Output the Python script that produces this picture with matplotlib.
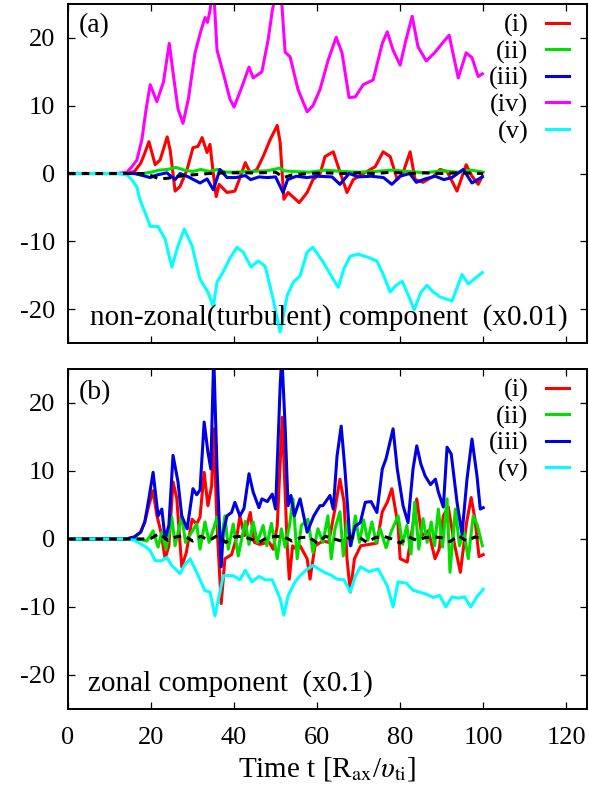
import matplotlib
matplotlib.use("Agg")
import matplotlib.pyplot as plt

plt.rcParams['font.family'] = ['Liberation Serif', 'DejaVu Serif']
plt.rcParams['mathtext.fontset'] = 'stix'
plt.rcParams['axes.unicode_minus'] = False

# ---- panel (a): non-zonal (turbulent) component (x0.01) ----
a_i_t = [0, 14, 16, 17.5, 18.5, 19.5, 21, 22.2, 23.9, 24.6, 25.8, 27, 28.7, 30.1, 31.3, 32.3, 33.5, 34.2, 35, 35.7,
         36.4, 38.3, 40.2, 41.5, 42.7, 43.9, 45.5, 47, 48.7, 50.4, 51.1, 52, 53, 55.7, 57.6, 59, 60.7, 61.9, 63.9,
         65.3, 67.2, 68.7, 72, 74, 75.9, 77.6, 79.3, 80.7, 82.4, 83.6, 85.5, 88, 89.6, 91.3, 93.7, 95.9, 97.3, 98.8, 99.8]
a_i_v = [0, 0, 0.3, 1.5, 3, 4.7, 1.3, 2, 5.4, 3.5, -2.6, -1.9, 0.6, 3.8, 4, 5.3, 3.1, 4.3, 0, -3.4,
         -1.6, -2.8, -2.6, -0.5, 1.6, 0.1, 0.6, 2.5, 5, 7.1, 4.6, -3.8, -2.8, -4.3, -2.8, -0.9, -0.1, 2.5, 3.2,
         0.6, -2.8, -0.9, 0.3, 1.0, 3.2, 2.5, -0.9, 0.1, 3.2, -0.9, -1.3, -0.4, 0.6, 0.3, -2.6, 1.3, -0.4, -1.6, -0.4]

a_ii_t = [0, 18, 20, 22, 24, 26, 28, 30, 32, 34, 36, 38, 40, 44, 48, 51, 52, 54, 58, 62, 66, 70, 74, 78, 82,
          86, 90, 94, 97, 100]
a_ii_v = [0, 0, 0.2, 0.5, 0.6, 0.9, 0.5, 0.3, 0.6, 0.3, 0.6, 0.2, 0.2, 0.3, 0.4, 0.8, 0.4, 0.3, 0.2, 0.5, 0.3,
          0.2, 0.3, 0.5, 0.3, 0.1, 0.4, 0.2, 0.5, 0.2]

a_iii_t = [0, 16, 18, 19.8, 21.5, 23.8, 25.8, 27, 29, 31.8, 33.5, 35, 36.6, 38.3, 40.5, 42.7, 44, 46, 48, 50,
           51.8, 52.9, 55, 57.6, 60, 63.6, 65.5, 67.7, 70, 73, 76, 78, 80, 82.3, 83.9, 86, 88.5, 90.5, 92.5, 95.2,
           97.3, 99.8]
a_iii_v = [0, 0, -0.3, -0.6, -0.2, 0.1, -0.9, 0, -0.5, -1.4, -0.8, -2.4, 0.6, -0.6, -0.6, -0.3, -0.9, -0.5, -0.6,
           -0.5, -2.8, -0.9, -0.4, -0.6, -0.4, -0.5, -1.6, 0, -0.5, -0.4, -0.6, -1.6, -0.4, 0, -1.3, -0.8, -0.4,
           -0.9, -0.6, 0.6, -1.4, -0.5]

a_iv_t = [0, 12, 14.2, 15.4, 16.6, 17.8, 18.8, 19.8, 21.4, 23, 24.4, 25.5, 26.5, 27.7, 29, 30.6, 32, 33, 33.6,
          34.2, 35, 35.9, 37.4, 39, 40, 41.9, 43.6, 44.6, 46.7, 48.2, 49.2, 50.5, 51.4, 52.3, 53.5, 55.4, 57.6, 59,
          60.7, 62.7, 64.6, 66, 67.7, 69.2, 71.1, 73.5, 75.7, 76.9, 78.3, 80, 81.4, 82.9, 84.3, 86.3, 88.4, 90.4,
          91.8, 94, 95.9, 97.3, 98.8, 99.8]
a_iv_v = [0, 0, 0.2, 1, 2, 5, 9.4, 13.1, 10.6, 13.5, 19.2, 14, 9.5, 7.4, 11, 17.8, 21, 23, 22.3,
          24, 28, 18.2, 14.8, 11, 9.8, 12.8, 15.7, 14.1, 15, 19.7, 24, 28, 26, 17.9, 17.2, 12.4, 9.1, 10,
          12.4, 16.8, 20.1, 17.8, 11.2, 11.3, 13.1, 13.8, 19.2, 20.9, 18.2, 16, 19.7, 23.2, 18.7, 16.6, 17.9, 19.4,
          20.4, 14.1, 17.8, 17.1, 14.3, 14.7]

a_v_t = [0, 12, 14.2, 15.5, 16.6, 17.3, 18.6, 19.8, 21.7, 23.4, 25, 26.5, 28, 29.9, 31.8, 33.7, 35, 35.9, 37.3,
         39, 40.7, 42.2, 44.1, 45.8, 47.5, 49.4, 51.1, 52.8, 54.3, 55.9, 57.6, 59, 61.5, 63.3, 65.1, 66.5, 68,
         69.9, 72, 74.4, 76, 77.6, 79, 80.5, 82, 83.4, 85, 86.5, 88, 89.6, 91, 92.5, 94.9, 96.4, 98, 99.8]
a_v_v = [0, 0, -0.2, -1, -2, -3.8, -5.8, -7.8, -7.8, -9.7, -13.8, -10.7, -8.2, -10.7, -15.6, -17.5, -19.6, -16,
         -14.6, -12.5, -10.9, -11.6, -13.8, -12.9, -13.7, -18.5, -23.4, -18, -16, -15.1, -11.6, -10.9, -13.1, -15,
         -16.8, -14, -12.2, -11.9, -12.3, -12.9, -15, -17.5, -16.5, -15.9, -18, -20.1, -17.5, -16.5, -17.5, -18.2,
         -18.5, -18.8, -14.9, -16.3, -15.5, -14.6]

a_ref_t = [0, 18, 20, 22, 24, 26, 28, 30, 34, 38, 42, 46, 50, 52, 54, 58, 62, 66, 70, 74, 78, 82, 86, 90, 94, 100]
a_ref_v = [0, 0, -0.3, -0.8, -0.7, -0.5, -0.3, -0.2, 0, 0.1, 0.1, 0.1, 0.2, -0.6, -0.2, 0, 0.1, 0, 0.1, 0, 0.2,
           0, 0.1, 0, 0.1, 0]

# ---- panel (b): zonal component (x0.1) ----
b_i_t = [0, 14, 16, 17.5, 18.5, 19.5, 20.5, 21.4, 22.4, 23.4, 24.3, 25.3, 26.2, 27.4, 28.5, 29.9, 31, 31.8, 32.8,
         33.7, 34.6, 35.1, 35.9, 36.9, 37.8, 39.4, 40.7, 41.4, 42.5, 43.9, 44.9, 46.2, 47.4, 48.5, 49.4, 50.4, 51.6,
         52.8, 53.3, 54.1, 55, 55.9, 57.6, 58.3, 59.5, 61.4, 62.8, 64.3, 65.5, 66.5, 67.2, 68, 69, 70.5, 72.5, 74.4,
         75.7, 76.9, 78, 79.5, 80, 81.7, 82.8, 84, 85.2, 86.8, 88.4, 89.4, 90.4, 91.6, 93, 94.5, 95.2, 96, 97.1, 98,
         99, 100]
b_i_v = [0, 0, 0.3, 1, 2.5, 5, 7.1, 3.5, 1.0, -2.9, -1, 8.4, 6, -4.1, -2, 2.9, 2.2, 3.2, 9.8,
         4.9, 7.8, 16.2, 1.9, -9.5, -2.9, -2.3, 0.4, 3.4, 0.5, 3.9, -0.5, -0.8, -0.6, -0.5, -1.5, 1.9, 17.9,
         -1, -5.9, -1, -1.5, -1, -2.9, -5.9, -1, -0.3, -0.5, 4.4, 8.8, 5.4, -2.9, -7.8, -2.9, -1, -0.8, -0.6,
         4, 5.4, 7.4, 2, -2.9, -3.4, 1, 5.9, 0.5, 1.2, -2.9, -1.5, 3.4, 4.7, -0.5, -4.9, -1.5, 2.4, 6.1, 3,
         -2.6, -2.3]

b_ii_t = [0, 17, 19, 20.5, 21.7, 22.6, 23.6, 25, 25.8, 27.4, 28.3, 29.3, 31, 31.8, 33, 34, 35.9, 36.8, 37.8, 38.6,
          39.8, 41, 42.7, 43.6, 44.6, 45.6, 47, 47.9, 49, 50.4, 51.4, 52.3, 53.3, 54.2, 55.2, 56.2, 57.8, 59, 60.2,
          61.4, 62.6, 63.4, 64.3, 65.5, 66.3, 67.2, 68.2, 69.2, 70.2, 71.2, 72.2, 73.2, 74.2, 75.2, 76.6, 77.8,
          79.5, 80.6, 81.6, 82.6, 83.5, 84.5, 85.5, 86.5, 87.5, 88.3, 89.2, 90.2, 91.3, 92, 93.3, 94.3, 95.3, 96.4,
          97.6, 98.6, 99.8]
b_ii_v = [0, 0, -0.3, 1.2, -1.2, 1.0, -1.5, 3.2, -1, 3.4, -0.5, 0.5, 2.2, -1.5, 2.5, -0.5, 3.2, -1, 3.4, -1.5,
          2.2, -2.5, 2.6, -0.8, 2.5, -0.5, 2, -1, 2.3, -2.9, 1.5, -1.2, 1.8, 5.9, -2.9, 2.0, 2.9, -2, 1.5,
          -0.5, 3.4, -2.9, 1.5, 4, -2.5, 2.5, -1, 3.4, -0.5, 2.8, -0.2, 2.5, -0.5, 1.5, -1.3, 1.0,
          3.4, -0.8, 2.0, -2.2, 5.4, -1.5, 3.0, -0.5, 2.5, -1.0, 4.4, -1.2, 5.9, -4.9, 4.4, -1.0, 1.2, -2.9,
          3.4, 2.0, -1.0]

b_iii_t = [0, 14, 16, 17.5, 18.5, 19.5, 20.5, 21.7, 22.6, 23.4, 24.3, 25.3, 26.5, 27.4, 28.7, 30.1, 31, 31.8, 32.8,
           33.7, 34.4, 35.1, 35.9, 36.9, 37.4, 38.3, 39.4, 40.2, 41.4, 42.4, 43.6, 44.6, 46, 46.7, 48, 49.2, 50, 51.1,
           51.5, 52.3, 53, 53.7, 54.5, 55.9, 57.6, 59.2, 60.7, 61.4, 63.1, 63.9, 64.8, 65.8, 66.7, 68, 69.2, 70.4,
           71.6, 73, 74.4, 75.7, 76.6, 78.3, 79.3, 80.7, 81.9, 83.1, 84, 85, 86, 87.3, 88.5, 89.2, 90.4, 91.3, 92.3,
           93.7, 94.9, 96.1, 97.3, 98.5, 99.3, 100]
b_iii_v = [0, 0, 0.3, 1, 2.5, 6, 9.8, 3.4, 4.4, 0, 2, 12.3, 8.4, 3.4, 1.5, 7.4, 6.5, 7.2, 17.2,
           12.8, 10.3, 27, 10.3, -4.1, 1, 3.4, 3.9, 5.4, 3.4, 4.5, 9.6, 6.9, 4.6, 5.9, 5.5, 6.6, 4.4, 22.5,
           27, 16.6, 4.9, 6.4, 3.4, 5.9, 1, 3.4, 4.9, 4.9, 6.4, 4.4, 12.2, 16.6, 10.3, -1, 1.9, 2.4,
           5.4, 5.5, 3.9, 10.3, 11.8, 16.2, 10.3, 4.9, 2.4, 10.3, 13.7, 11, 9.3, 8, 8.8, 6.9, 4.7, 13.5, 12.5,
           5.4, 0.7, 8.8, 14.7, 9.3, 4.4, 4.6]

b_v_t = [0, 14, 16, 17.5, 18.8, 19.8, 21, 22.6, 23.8, 25, 27, 28, 29.4, 31, 33, 34.2, 35.4, 36.6, 37.4, 39.8,
         41.4, 42.7, 44.3, 46, 47.5, 49.2, 51.1, 52, 53, 54.7, 55.9, 57.5, 59, 61.7, 63.3, 64.8, 66.5, 68, 69.2,
         70.4, 72.5, 74.7, 76.9, 78.3, 79.5, 81.5, 83, 84.5, 86.3, 88, 89.5, 91, 92.5, 94, 95.5, 97, 98.5, 100]
b_v_v = [0, 0, -0.2, -0.7, -1.2, -1.7, -3.2, -3.2, -2.7, -3.9, -5.1, -3.9, -2.9, -4.9, -7.6, -7.8, -11.3, -7.8,
         -5.4, -5.4, -6, -4.6, -6.3, -5.5, -6, -6, -8.8, -11.2, -8.4, -6.3, -5.4, -4.5, -3.9, -4.9, -5.3, -5.9,
         -6, -7.8, -5.5, -4.1, -4.8, -4.4, -6.9, -10, -6.3, -6.5, -7.5, -7.8, -8.1, -8.6, -8.3, -10, -8.5, -8.7,
         -8.5, -10, -8.5, -7.4]

b_ref_t = [0, 18, 20, 22, 24, 26, 28, 30, 32, 34, 36, 38, 40, 42, 44, 46, 48, 50, 52, 54, 56, 58, 60, 62, 64, 66,
           68, 70, 72, 74, 76, 78, 80, 82, 84, 86, 88, 90, 92, 94, 96, 98, 100]
b_ref_v = [0, 0, 0.1, 0.8, -0.2, 0.3, 0.5, -0.3, 0.4, -0.2, 0.5, -0.5, 0.3, 0.4, 0, -0.5, 0.2, 0.4, 0.3, -0.3,
           0.2, 0.3, -0.6, 0.4, 0, -0.3, 0.3, 0.3, -0.5, 0.2, 0.4, 0, -0.6, 0.3, -0.2, 0.2, 0.3, 0.2, -0.4, 0.5,
           -0.3, 0.3, 0]

colors = {'(i)': '#ff0000', '(ii)': '#00e000', '(iii)': '#0000e0', '(iv)': '#ff00ff', '(v)': '#00ffff'}
x_ticks = [0, 20, 40, 60, 80, 100, 120]
y_ticks = [-20, -10, 0, 10, 20]

FS = 19      # ticks and legend
FS_NOTE = 21 # panel notes
LW = 2.2

fig = plt.figure(figsize=(5.89, 7.91), dpi=100)
ax_a = fig.add_axes([0.1154, 0.5664, 0.8812, 0.4285])
ax_b = fig.add_axes([0.1154, 0.1037, 0.8812, 0.4298])

panel_a = [('(i)', a_i_t, a_i_v), ('(ii)', a_ii_t, a_ii_v), ('(iii)', a_iii_t, a_iii_v),
           ('(iv)', a_iv_t, a_iv_v), ('(v)', a_v_t, a_v_v)]
panel_b = [('(i)', b_i_t, b_i_v), ('(ii)', b_ii_t, b_ii_v), ('(iii)', b_iii_t, b_iii_v),
           ('(v)', b_v_t, b_v_v)]

for ax, series, ref_t, ref_v in [(ax_a, panel_a, a_ref_t, a_ref_v), (ax_b, panel_b, b_ref_t, b_ref_v)]:
    for name, t, v in series:
        ax.plot(t, v, color=colors[name], lw=LW, label=name, solid_joinstyle='round')
    ax.plot(ref_t, ref_v, color='black', lw=LW, linestyle=(0, (2.5, 2)))
    ax.set_xlim(0, 125)
    ax.set_ylim(-25, 25)
    ax.set_xticks(x_ticks)
    ax.set_yticks(y_ticks)
    ax.tick_params(direction='in', top=True, right=True, length=5, width=0.9, labelsize=FS)
    ax.tick_params(axis='y', pad=9)
    ax.tick_params(axis='x', pad=13)
    for s in ax.spines.values():
        s.set_linewidth(1.4)
    ax.legend(loc='upper right', bbox_to_anchor=(0.966, 0.972), frameon=False, fontsize=FS,
              markerfirst=False, handlelength=0.9, handletextpad=0.65, labelspacing=0.1,
              borderaxespad=0, borderpad=0)

ax_a.tick_params(labelbottom=False)
ax_a.text(0.021, 0.935, '(a)', transform=ax_a.transAxes, fontsize=20, ha='left', va='center')
ax_a.text(0.042, 0.074, 'non-zonal(turbulent) component  (x0.01)', transform=ax_a.transAxes,
          fontsize=FS_NOTE, ha='left', va='center')
ax_b.text(0.021, 0.932, '(b)', transform=ax_b.transAxes, fontsize=20, ha='left', va='center')
ax_b.text(0.038, 0.074, 'zonal component  (x0.1)', transform=ax_b.transAxes,
          fontsize=FS_NOTE, ha='left', va='center')
ax_b.set_xlabel(r'Time t [R$_{\rm ax}$/$\upsilon_{\rm ti}$]', fontsize=21, labelpad=4)

fig.savefig('out.png', dpi=100)
